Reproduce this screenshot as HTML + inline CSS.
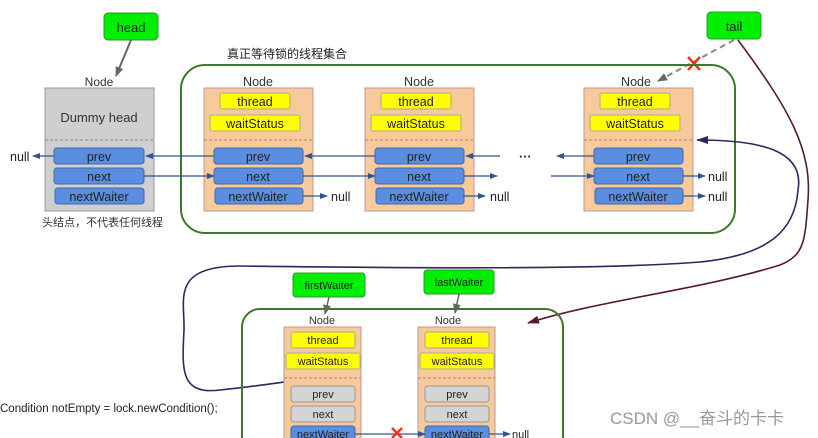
<!DOCTYPE html>
<html><head><meta charset="utf-8"><style>
body{margin:0;background:#fff;}
svg{display:block;font-family:"Liberation Sans","Noto Sans CJK SC",sans-serif;}
</style></head><body>
<svg width="818" height="438" viewBox="0 0 818 438" xmlns="http://www.w3.org/2000/svg">
<defs>
<marker id="ab" markerWidth="8" markerHeight="6" refX="7" refY="3" orient="auto" markerUnits="userSpaceOnUse"><path d="M0,0 L8,3 L0,6 z" fill="#2f5597"/></marker>
<marker id="ag" markerWidth="10" markerHeight="8" refX="9" refY="4" orient="auto" markerUnits="userSpaceOnUse"><path d="M0,0 L10,4 L0,8 z" fill="#666"/></marker>
<marker id="an" markerWidth="12" markerHeight="8" refX="11" refY="4" orient="auto" markerUnits="userSpaceOnUse"><path d="M0,0 L12,4 L0,8 z" fill="#262a5e"/></marker>
<marker id="am" markerWidth="12" markerHeight="8" refX="11" refY="4" orient="auto" markerUnits="userSpaceOnUse"><path d="M0,0 L12,4 L0,8 z" fill="#5a1a2a"/></marker>
</defs>

<rect x="104" y="13" width="54" height="27" rx="4" fill="#00ee00" stroke="#2a9a2a"/>
<text x="131" y="32" font-size="13" text-anchor="middle" fill="#222">head</text>
<line x1="131" y1="40" x2="116" y2="76" stroke="#666" stroke-width="2" marker-end="url(#ag)"/>
<rect x="707" y="12" width="54" height="27" rx="4" fill="#00ee00" stroke="#2a9a2a"/>
<text x="734" y="31" font-size="13" text-anchor="middle" fill="#222">tail</text>
<line x1="734" y1="40" x2="658" y2="81" stroke="#888" stroke-width="2" stroke-dasharray="6,4" marker-end="url(#ag)"/>
<path d="M688,57 L700,70 M700,57 L688,70" stroke="#e32" stroke-width="2.5"/>

<rect x="181" y="65" width="554" height="168" rx="24" fill="none" stroke="#3a7a2a" stroke-width="2"/>
<text x="227" y="58" font-size="12" fill="#222">真正等待锁的线程集合</text>

<text x="99" y="86" font-size="12" text-anchor="middle" fill="#333">Node</text>
<rect x="45" y="88" width="109" height="123" fill="#cfcfcf" stroke="#999"/>
<text x="99" y="122" font-size="13" text-anchor="middle" fill="#333">Dummy head</text>
<line x1="45" y1="140" x2="154" y2="140" stroke="#888" stroke-dasharray="3,2"/>
<g font-size="12.5" text-anchor="middle" fill="#222">
<rect x="54" y="148" width="90" height="16" rx="3" fill="#5b8ee0" stroke="#3d6bb0"/><text x="99" y="161">prev</text>
<rect x="54" y="168" width="90" height="16" rx="3" fill="#5b8ee0" stroke="#3d6bb0"/><text x="99" y="181">next</text>
<rect x="55" y="188" width="89" height="16" rx="3" fill="#5b8ee0" stroke="#3d6bb0"/><text x="99" y="201">nextWaiter</text>
</g>
<text x="42" y="226" font-size="11" fill="#333">头结点，不代表任何线程</text>

<g font-size="12.5" text-anchor="middle" fill="#222">
<g transform="translate(204,0)">
<text x="54" y="86" fill="#333">Node</text>
<rect x="0" y="88" width="109" height="123" fill="#f8c99b" stroke="#b99"/>
<rect x="16" y="93" width="70" height="16" rx="2" fill="#ffff00" stroke="#aa9"/><text x="51" y="106">thread</text>
<rect x="6" y="115" width="90" height="16" rx="2" fill="#ffff00" stroke="#aa9"/><text x="51" y="128">waitStatus</text>
<line x1="0" y1="140" x2="109" y2="140" stroke="#a87" stroke-dasharray="3,2"/>
<rect x="10" y="148" width="89" height="16" rx="3" fill="#5b8ee0" stroke="#3d6bb0"/><text x="54" y="161">prev</text>
<rect x="10" y="168" width="89" height="16" rx="3" fill="#5b8ee0" stroke="#3d6bb0"/><text x="54" y="181">next</text>
<rect x="11" y="188" width="88" height="16" rx="3" fill="#5b8ee0" stroke="#3d6bb0"/><text x="54" y="201">nextWaiter</text>
</g>
<g transform="translate(365,0)">
<text x="54" y="86" fill="#333">Node</text>
<rect x="0" y="88" width="109" height="123" fill="#f8c99b" stroke="#b99"/>
<rect x="16" y="93" width="70" height="16" rx="2" fill="#ffff00" stroke="#aa9"/><text x="51" y="106">thread</text>
<rect x="6" y="115" width="90" height="16" rx="2" fill="#ffff00" stroke="#aa9"/><text x="51" y="128">waitStatus</text>
<line x1="0" y1="140" x2="109" y2="140" stroke="#a87" stroke-dasharray="3,2"/>
<rect x="10" y="148" width="89" height="16" rx="3" fill="#5b8ee0" stroke="#3d6bb0"/><text x="54" y="161">prev</text>
<rect x="10" y="168" width="89" height="16" rx="3" fill="#5b8ee0" stroke="#3d6bb0"/><text x="54" y="181">next</text>
<rect x="11" y="188" width="88" height="16" rx="3" fill="#5b8ee0" stroke="#3d6bb0"/><text x="54" y="201">nextWaiter</text>
</g>
<g transform="translate(584,0)">
<text x="52" y="86" fill="#333">Node</text>
<rect x="0" y="88" width="109" height="123" fill="#f8c99b" stroke="#b99"/>
<rect x="16" y="93" width="70" height="16" rx="2" fill="#ffff00" stroke="#aa9"/><text x="51" y="106">thread</text>
<rect x="6" y="115" width="90" height="16" rx="2" fill="#ffff00" stroke="#aa9"/><text x="51" y="128">waitStatus</text>
<line x1="0" y1="140" x2="109" y2="140" stroke="#a87" stroke-dasharray="3,2"/>
<rect x="10" y="148" width="89" height="16" rx="3" fill="#5b8ee0" stroke="#3d6bb0"/><text x="54" y="161">prev</text>
<rect x="10" y="168" width="89" height="16" rx="3" fill="#5b8ee0" stroke="#3d6bb0"/><text x="54" y="181">next</text>
<rect x="11" y="188" width="88" height="16" rx="3" fill="#5b8ee0" stroke="#3d6bb0"/><text x="54" y="201">nextWaiter</text>
</g>
</g>

<g stroke="#2f5597" stroke-width="1.3" fill="none" marker-end="url(#ab)">
<line x1="54" y1="156" x2="33" y2="156"/>
<line x1="214" y1="156" x2="146" y2="156"/>
<line x1="144" y1="176" x2="214" y2="176"/>
<line x1="375" y1="156" x2="305" y2="156"/>
<line x1="303" y1="176" x2="375" y2="176"/>
<line x1="500" y1="156" x2="466" y2="156"/>
<line x1="464" y1="176" x2="497" y2="176"/>
<line x1="594" y1="156" x2="557" y2="156"/>
<line x1="551" y1="176" x2="594" y2="176"/>
<line x1="303" y1="196" x2="327" y2="196"/>
<line x1="463" y1="196" x2="485" y2="196"/>
<line x1="683" y1="176" x2="705" y2="176"/>
<line x1="683" y1="196" x2="705" y2="196"/>
</g>
<g font-size="12.5" fill="#222">
<text x="10" y="161">null</text>
<text x="331" y="201">null</text>
<text x="490" y="201">null</text>
<text x="708" y="181">null</text>
<text x="708" y="201">null</text>
<text x="519" y="161" font-weight="bold">···</text>
</g>

<path d="M798,190 C805,150 760,140 697,140" stroke="#262a5e" stroke-width="1.6" fill="none" marker-end="url(#an)"/>
<path d="M798,190 C795,230 770,255 700,262 C600,270 400,268 240,266 C170,266 185,300 184,330 C182,370 180,395 220,390 C250,387 270,384 284,382" stroke="#262a5e" stroke-width="1.6" fill="none"/>
<path d="M738,40 C790,110 812,150 808,200 C805,240 805,255 780,265 C700,290 600,300 528,323" stroke="#5a1a2a" stroke-width="1.6" fill="none" marker-end="url(#am)"/>

<rect x="242" y="309" width="321" height="150" rx="18" fill="none" stroke="#3a7a2a" stroke-width="2"/>
<rect x="293" y="273" width="72" height="24" rx="3" fill="#00ee00" stroke="#2a9a2a"/>
<text x="329" y="289" font-size="11" text-anchor="middle" fill="#222">firstWaiter</text>
<rect x="424" y="270" width="70" height="24" rx="3" fill="#00ee00" stroke="#2a9a2a"/>
<text x="459" y="286" font-size="11" text-anchor="middle" fill="#222">lastWaiter</text>
<line x1="329" y1="297" x2="325" y2="314" stroke="#666" stroke-width="1.5" marker-end="url(#ag)"/>
<line x1="459" y1="294" x2="455" y2="313" stroke="#666" stroke-width="1.5" marker-end="url(#ag)"/>

<g font-size="11" text-anchor="middle" fill="#222">
<g transform="translate(284,0)">
<text x="38" y="324" fill="#333">Node</text>
<rect x="0" y="327" width="77" height="120" fill="#f8c99b" stroke="#b99"/>
<rect x="7" y="332" width="64" height="16" rx="2" fill="#ffff00" stroke="#aa9"/><text x="39" y="344">thread</text>
<rect x="2" y="353" width="74" height="16" rx="2" fill="#ffff00" stroke="#aa9"/><text x="39" y="365">waitStatus</text>
<line x1="0" y1="378" x2="77" y2="378" stroke="#a87" stroke-dasharray="3,2"/>
<rect x="7" y="386" width="64" height="16" rx="3" fill="#d4d4d4" stroke="#999"/><text x="39" y="398">prev</text>
<rect x="7" y="406" width="64" height="16" rx="3" fill="#d4d4d4" stroke="#999"/><text x="39" y="418">next</text>
<rect x="7" y="426" width="64" height="16" rx="3" fill="#5b8ee0" stroke="#3d6bb0"/><text x="39" y="438">nextWaiter</text>
</g>
<g transform="translate(418,0)">
<text x="30" y="324" fill="#333">Node</text>
<rect x="0" y="327" width="77" height="120" fill="#f8c99b" stroke="#b99"/>
<rect x="7" y="332" width="64" height="16" rx="2" fill="#ffff00" stroke="#aa9"/><text x="39" y="344">thread</text>
<rect x="2" y="353" width="74" height="16" rx="2" fill="#ffff00" stroke="#aa9"/><text x="39" y="365">waitStatus</text>
<line x1="0" y1="378" x2="77" y2="378" stroke="#a87" stroke-dasharray="3,2"/>
<rect x="7" y="386" width="64" height="16" rx="3" fill="#d4d4d4" stroke="#999"/><text x="39" y="398">prev</text>
<rect x="7" y="406" width="64" height="16" rx="3" fill="#d4d4d4" stroke="#999"/><text x="39" y="418">next</text>
<rect x="7" y="426" width="64" height="16" rx="3" fill="#5b8ee0" stroke="#3d6bb0"/><text x="39" y="438">nextWaiter</text>
</g>
</g>
<g stroke="#2f5597" stroke-width="1.3" marker-end="url(#ab)">
<line x1="355" y1="434" x2="425" y2="434"/>
<line x1="489" y1="434" x2="510" y2="434"/>
</g>
<path d="M392,428 L402,438 M402,428 L392,438" stroke="#e32" stroke-width="2.5"/>
<text x="512" y="438" font-size="11" fill="#222">null</text>

<text x="0" y="412" font-size="11.5" fill="#222">Condition notEmpty = lock.newCondition();</text>
<text x="610" y="424" font-size="17" fill="#999">CSDN @__奋斗的卡卡</text>
</svg>
</body></html>
